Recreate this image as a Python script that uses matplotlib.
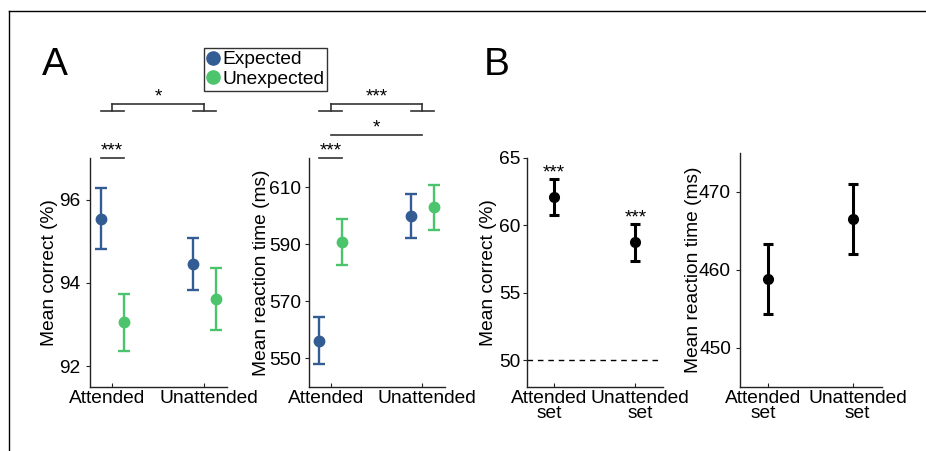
import matplotlib
matplotlib.use("Agg")
import matplotlib.pyplot as plt
from matplotlib.lines import Line2D
from matplotlib.transforms import blended_transform_factory, ScaledTranslation

# ---- data ----
conditions = ["Attended", "Unattended"]
set_labels = ["Attended\nset", "Unattended\nset"]

acc_expected = [95.54, 94.45]
acc_expected_err = [0.73, 0.62]
acc_unexpected = [93.05, 93.62]
acc_unexpected_err = [0.69, 0.74]

rt_expected = [556.3, 600.1]
rt_expected_err = [8.3, 7.7]
rt_unexpected = [590.9, 603.1]
rt_unexpected_err = [8.0, 7.9]

set_acc = [62.08, 58.74]
set_acc_err = [1.33, 1.35]
set_rt = [458.8, 466.5]
set_rt_err = [4.5, 4.5]

BLUE = "#335C94"
GREEN = "#4CC46C"
LINE = "#222222"
FS = 13.8

plt.rcParams.update({
    "font.family": ["Liberation Sans", "DejaVu Sans"],
    "font.size": FS,
    "axes.linewidth": 1.0,
    "axes.edgecolor": LINE,
})

W, H = 926, 451
fig = plt.figure(figsize=(W / 100, H / 100), dpi=100)


def px_axes(x0, x1, y0, y1):
    # pixel box -> figure fraction axes
    return fig.add_axes([x0 / W, 1 - y1 / H, (x1 - x0) / W, (y1 - y0) / H])


def style(ax, ypad):
    ax.spines["top"].set_visible(False)
    ax.spines["right"].set_visible(False)
    ax.tick_params(axis="y", direction="out", length=3, pad=ypad, color=LINE)
    ax.tick_params(axis="x", direction="in", length=3, pad=2, color=LINE)


def spread_xlabels(ax, px=4.5):
    # reference pushes the two category labels slightly apart
    for lab, sgn in zip(ax.get_xticklabels(), (-1, 1)):
        lab.set_transform(lab.get_transform() + ScaledTranslation(sgn * px / 100, 0, fig.dpi_scale_trans))


ax1 = px_axes(90, 227, 158, 387)
ax2 = px_axes(309, 445, 158, 387)
ax3 = px_axes(527, 663, 158, 387)
ax4 = px_axes(740, 882, 153, 387)

xs = [1, 2]
off = 0.125
ekw = dict(fmt="o", markersize=7.5, elinewidth=1.7, capsize=4, capthick=1.7)

for ax, e, ee, u, ue in [
    (ax1, acc_expected, acc_expected_err, acc_unexpected, acc_unexpected_err),
    (ax2, rt_expected, rt_expected_err, rt_unexpected, rt_unexpected_err),
]:
    ax.errorbar([x - off for x in xs], e, yerr=ee, color=BLUE, label="Expected", **ekw)
    ax.errorbar([x + off for x in xs], u, yerr=ue, color=GREEN, label="Unexpected", **ekw)
    ax.set_xticks(xs)
    ax.set_xticklabels(conditions)
    ax.set_xlim(0.76, 2.25)

style(ax1, 4)
style(ax2, 2.5)

ax1.set_ylim(91.5, 97.0)
ax1.set_yticks([92, 94, 96])
ax1.set_ylabel("Mean correct (%)")
ax1.yaxis.set_label_coords(-0.234, 0.5)
ax2.set_ylim(540, 620.3)
ax2.set_yticks([550, 570, 590, 610])
ax2.set_ylabel("Mean reaction time (ms)")
ax2.yaxis.set_label_coords(-0.285, 0.5)

bkw = dict(fmt="o", color="black", markersize=7, elinewidth=2.2, capsize=3.6, capthick=2.2)
ax3.errorbar(xs, set_acc, yerr=set_acc_err, **bkw)
ax3.axhline(50, color="black", linestyle=(0, (4, 3.5)), linewidth=1.0, xmax=0.98)
ax3.set_ylim(48, 65)
ax3.set_yticks([50, 55, 60, 65])
ax3.set_ylabel("Mean correct (%)")
ax3.yaxis.set_label_coords(-0.22, 0.5)
for x, m, e in zip(xs, set_acc, set_acc_err):
    ax3.text(x, m + e + 0.15, "***", ha="center", va="baseline")

ax4.errorbar(xs, set_rt, yerr=set_rt_err, **bkw)
ax4.set_ylim(445, 475)
ax4.set_yticks([450, 460, 470])
ax4.set_ylabel("Mean reaction time (ms)")
ax4.yaxis.set_label_coords(-0.27, 0.5)

for ax, pad in ((ax3, 1.5), (ax4, 3.5)):
    ax.set_xticks(xs)
    ax.set_xticklabels(set_labels, linespacing=0.85)
    ax.set_xlim(0.67, 2.34)
    style(ax, pad)

for ax in (ax1, ax2, ax3, ax4):
    spread_xlabels(ax)


# ---- significance brackets (x in data, y in axes fraction) ----
def frac(ypx):
    return (387 - ypx) / 229.0


def seg(ax, xa, xb, ya, yb):
    tr = blended_transform_factory(ax.transData, ax.transAxes)
    ax.plot([xa, xb], [ya, yb], color="#333333", lw=1.2, transform=tr, clip_on=False)


def star(ax, x, y, s):
    tr = blended_transform_factory(ax.transData, ax.transAxes)
    ax.text(x, y, s, ha="center", va="baseline", transform=tr, fontsize=FS)


def big_bracket(ax, s):
    top, low = frac(104), frac(111)
    seg(ax, 1, 2, top, top)
    seg(ax, 1, 1, top, low)
    seg(ax, 2, 2, top, low)
    seg(ax, 1 - off, 1 + off, low, low)
    seg(ax, 2 - off, 2 + off, low, low)
    star(ax, 1.5, top + 0.012, s)


for ax, s in [(ax1, "*"), (ax2, "***")]:
    seg(ax, 1 - off, 1 + off, 1.0, 1.0)
    star(ax, 1, 1.012, "***")
    big_bracket(ax, s)

seg(ax2, 1, 2, frac(135), frac(135))
star(ax2, 1.5, frac(135) + 0.012, "*")

# legend
handles = [Line2D([], [], marker="o", ls="", color=BLUE, markersize=9.5),
           Line2D([], [], marker="o", ls="", color=GREEN, markersize=9.5)]
leg = fig.legend(handles, ["Expected", "Unexpected"], loc="upper left",
                 bbox_to_anchor=(204 / W, 1 - 48 / H), frameon=True, fancybox=False,
                 edgecolor="black", handlelength=0.6, handletextpad=0.2,
                 borderpad=0.15, labelspacing=0.12, borderaxespad=0, fontsize=FS)
leg.get_frame().set_linewidth(1.0)

# panel labels
fig.text(42 / W, 1 - 75 / H, "A", fontsize=28, va="baseline")
fig.text(484 / W, 1 - 75 / H, "B", fontsize=28, va="baseline")

# outer frame lines
fig.add_artist(Line2D([9 / W, 9 / W], [0, 1 - 11 / H], color="black", lw=1.0))
fig.add_artist(Line2D([9 / W, 1], [1 - 11 / H, 1 - 11 / H], color="black", lw=1.0))

fig.savefig("out.png", dpi=100)
